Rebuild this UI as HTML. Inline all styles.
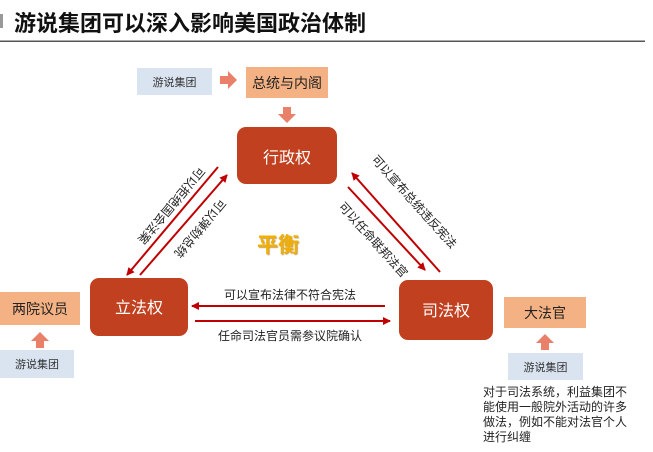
<!DOCTYPE html>
<html><head><meta charset="utf-8"><style>
body{margin:0;background:#fff;}
svg{display:block;font-family:"Liberation Sans","Noto Sans CJK SC",sans-serif;}
</style></head><body>
<svg width="653" height="452" viewBox="0 0 653 452" xmlns="http://www.w3.org/2000/svg">
<defs>
<marker id="ah" markerWidth="8" markerHeight="8" refX="7" refY="4" orient="auto" markerUnits="userSpaceOnUse"><path d="M0,0 L8,4 L0,8 z" fill="#c00000"/></marker>
</defs>
<rect x="0" y="14" width="3" height="14" fill="#999"/>
<text x="14" y="31" font-size="22" font-weight="bold" fill="#111">游说集团可以深入影响美国政治体制</text>
<rect x="0" y="40.5" width="645" height="1.5" fill="#555"/>

<rect x="137" y="68" width="75" height="27" fill="#dae3f0"/>
<text x="174.5" y="86" font-size="11" text-anchor="middle" fill="#333">游说集团</text>
<path d="M220,76 h8 v-5 l9,9 l-9,9 v-5 h-8z" fill="#e8806a"/>
<rect x="246" y="67" width="82" height="31" fill="#f4b183"/>
<text x="287" y="88" font-size="14" text-anchor="middle" fill="#222">总统与内阁</text>
<path d="M283,107 h8 v7 h5 l-9,9 l-9,-9 h5z" fill="#e8806a"/>

<rect x="237" y="127" width="100" height="57" rx="9" fill="#c1401f"/>
<text x="287" y="163" font-size="16" text-anchor="middle" fill="#fff">行政权</text>
<rect x="90" y="278" width="98" height="58" rx="9" fill="#c1401f"/>
<text x="139" y="313" font-size="16" text-anchor="middle" fill="#fff">立法权</text>
<rect x="399" y="280" width="94" height="60" rx="9" fill="#c1401f"/>
<text x="446" y="316" font-size="16" text-anchor="middle" fill="#fff">司法权</text>

<rect x="0" y="292" width="80" height="33" fill="#f4b183"/>
<text x="40" y="314" font-size="14" text-anchor="middle" fill="#222">两院议员</text>
<path d="M36,348 v-7 h-5 l9,-9 l9,9 h-5 v7z" fill="#e8806a"/>
<rect x="0" y="350" width="74" height="28" fill="#dae3f0"/>
<text x="37" y="368" font-size="11" text-anchor="middle" fill="#333">游说集团</text>

<rect x="504" y="297" width="82" height="31" fill="#f4b183"/>
<text x="545" y="318" font-size="14" text-anchor="middle" fill="#222">大法官</text>
<path d="M541,350 v-7 h-5 l9,-9 l9,9 h-5 v7z" fill="#e8806a"/>
<rect x="508" y="353" width="75" height="27" fill="#dae3f0"/>
<text x="545.5" y="371" font-size="11" text-anchor="middle" fill="#333">游说集团</text>

<g font-size="12" fill="#222">
<text x="483" y="396">对于司法系统，利益集团不</text>
<text x="483" y="411">能使用一般院外活动的许多</text>
<text x="483" y="426">做法，例如不能对法官个人</text>
<text x="483" y="441">进行纠缠</text>
</g>

<g stroke="#c00000" stroke-width="2" fill="none">
<line x1="385" y1="306" x2="192" y2="306" marker-end="url(#ah)"/>
<line x1="195" y1="321" x2="390" y2="321" marker-end="url(#ah)"/>
<line x1="218" y1="167" x2="127" y2="275" marker-end="url(#ah)"/>
<line x1="140" y1="275" x2="227" y2="175" marker-end="url(#ah)"/>
<line x1="440" y1="272" x2="352" y2="173" marker-end="url(#ah)"/>
<line x1="348" y1="187" x2="425" y2="270" marker-end="url(#ah)"/>
</g>
<g font-size="12" fill="#222">
<text x="290" y="299" text-anchor="middle">可以宣布法律不符合宪法</text>
<text x="290" y="340" text-anchor="middle">任命司法官员需参议院确认</text>
<text transform="translate(199,166) rotate(130)">可以拒绝国会法案</text>
<text transform="translate(220,198) rotate(130)">可以弹劾总统</text>
<text transform="translate(371,160) rotate(48)">可以宣布总统违反宪法</text>
<text transform="translate(338,207) rotate(48)">可以任命联邦法官</text>
</g>
<text x="278" y="252" font-size="21" font-weight="bold" text-anchor="middle" fill="#f0b000" style="text-shadow:1px 1px 1px #c8a060">平衡</text>
</svg>
</body></html>
